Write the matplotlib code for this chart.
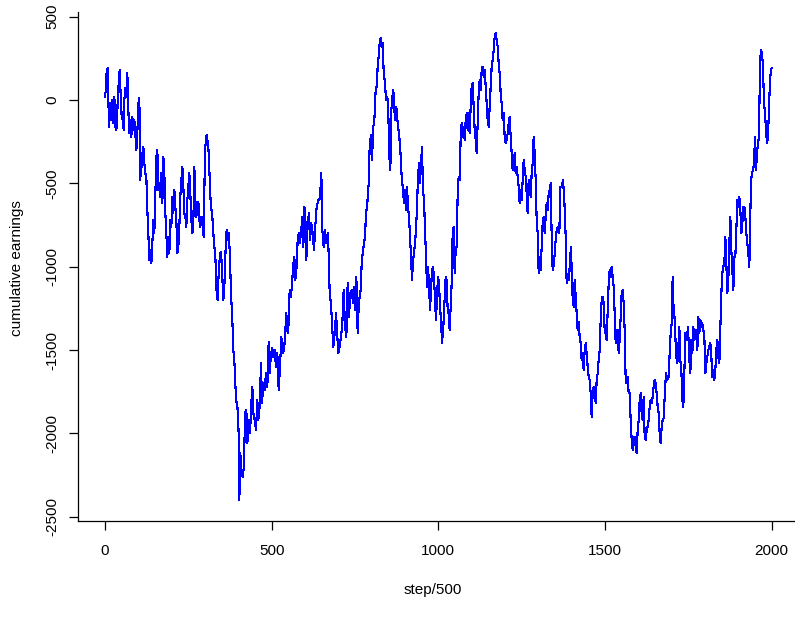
import matplotlib
matplotlib.use("Agg")
import matplotlib.pyplot as plt

steps = [0, 3, 5, 8, 10, 12, 15, 18, 22, 25, 28, 32, 36, 38, 42, 44, 47, 50, 53, 56,
         58, 61, 64, 67, 70, 73, 76, 79, 82, 85, 88, 91, 94, 97, 100, 103, 106, 109, 112, 115,
         118, 121, 124, 127, 130, 133, 136, 139, 142, 145, 148, 151, 154, 157, 160, 163, 166, 169, 172, 175,
         178, 181, 184, 187, 190, 193, 196, 199, 202, 205, 208, 211, 214, 217, 220, 223, 226, 229, 232, 235,
         238, 241, 244, 247, 250, 253, 256, 259, 262, 265, 268, 271, 274, 277, 280, 283, 286, 289, 292, 296,
         300, 305, 310, 313, 315, 318, 322, 325, 328, 331, 335, 338, 340, 345, 348, 351, 355, 358, 362, 365,
         368, 371, 375, 378, 381, 385, 389, 393, 397, 401, 403, 406, 409, 413, 417, 420, 424, 427, 431, 435,
         439, 442, 445, 449, 453, 457, 460, 464, 468, 471, 475, 479, 483, 487, 491, 494, 498, 502, 505, 509,
         513, 517, 521, 525, 529, 533, 537, 540, 544, 548, 551, 554, 557, 561, 564, 568, 571, 575, 578, 581,
         584, 588, 592, 595, 598, 601, 604, 608, 612, 615, 619, 623, 627, 630,
         635, 640, 645, 649, 652, 656, 660, 664, 668, 671, 674, 678, 682, 685, 690, 693, 697, 700, 704, 708,
         712, 716, 720, 724, 728, 732, 736, 740, 744, 748, 751, 754, 758, 761, 764, 767, 770, 773, 777, 780,
         783, 787, 791, 794, 798, 801, 805, 808, 812, 815, 818, 821, 824, 827, 830, 833, 836, 840, 843, 847,
         850, 853, 856, 859, 862, 865, 868, 871, 874, 878, 882, 886, 890, 894, 897, 900, 903, 906, 909, 912,
         915, 918, 921, 924, 927, 930, 933, 936, 939, 942, 945, 948, 951, 954, 957, 960, 963, 966, 969, 972,
         975, 978, 981, 984, 987,
         990, 993, 996, 999, 1002, 1005, 1008, 1011, 1015, 1019, 1022, 1025, 1028, 1031, 1034, 1037, 1040, 1043, 1046, 1049,
         1052, 1055, 1058, 1061, 1064, 1067, 1070, 1073, 1076, 1079, 1082, 1085, 1088, 1091, 1094, 1097, 1100, 1103, 1106, 1109,
         1112, 1115, 1118, 1121, 1124, 1127, 1130, 1133, 1136, 1139, 1142, 1145, 1148, 1151, 1154, 1157, 1160, 1163, 1166, 1169,
         1172, 1175, 1178, 1181, 1184, 1187, 1190, 1193, 1196, 1199, 1202, 1205, 1208, 1211, 1214, 1217, 1220, 1223, 1226, 1229,
         1232, 1235, 1238, 1241, 1244, 1247, 1250, 1253, 1256, 1259, 1262, 1265, 1268, 1271, 1274, 1277, 1280, 1283, 1286, 1289,
         1292, 1295, 1298, 1301, 1304, 1307, 1310, 1313, 1316, 1319, 1322, 1325, 1328, 1331,
         1334, 1337, 1340, 1343, 1347, 1351, 1355, 1359, 1363, 1366, 1370, 1374, 1378, 1382, 1385, 1388, 1392, 1395, 1398, 1402,
         1406, 1409, 1412, 1415, 1418, 1421, 1424, 1427, 1430, 1433, 1436, 1439, 1442, 1445, 1448, 1451, 1454, 1457, 1460, 1463,
         1466, 1469, 1472, 1475, 1478, 1481, 1484, 1487, 1490, 1493, 1496, 1499, 1502, 1505, 1508, 1511, 1514, 1517, 1520, 1523,
         1526, 1529, 1532, 1535, 1538, 1541, 1544, 1547, 1550, 1553, 1556, 1559, 1562, 1565, 1568, 1571, 1574, 1577, 1580, 1583,
         1586, 1589, 1592, 1595, 1598, 1601, 1604, 1607, 1610, 1613, 1616, 1619, 1622, 1625, 1628, 1631, 1634, 1637, 1640, 1643,
         1646, 1649, 1652, 1655, 1658, 1661, 1664, 1667, 1670, 1673, 1676,
         1680, 1683, 1687, 1691, 1694, 1697, 1700, 1703, 1705, 1708, 1711, 1714, 1717, 1720, 1723, 1726, 1729, 1732, 1735, 1738,
         1741, 1745, 1749, 1753, 1756, 1759, 1762, 1765, 1768, 1771, 1774, 1777, 1780, 1783, 1786, 1789, 1792, 1795, 1798, 1801,
         1804, 1807, 1810, 1813, 1816, 1819, 1822, 1825, 1828, 1831, 1834, 1837, 1840, 1843, 1846, 1849, 1852, 1855, 1858, 1861,
         1864, 1867, 1870, 1873, 1876, 1879, 1882, 1885, 1888, 1891, 1894, 1897, 1900, 1903, 1906, 1909, 1912, 1915, 1918, 1921,
         1924, 1927, 1930, 1933, 1935, 1938, 1941, 1944, 1947, 1950, 1953, 1956, 1959, 1962, 1965, 1968, 1971, 1974, 1977, 1980,
         1983, 1986, 1989, 1992, 1995, 1998, 2000]

earnings = [20, 70, 180, 190, 0, -160, -20, -120, 0, -140, 20, -180, -160, 0, 130, 180, 30, -100, -120, -180,
            0, 70, 20, 160, -60, -200, -120, -220, -100, -180, -120, -200, -300, -200, -20, 10, -480, -320, -400, -280,
            -380, -440, -460, -660, -800, -960, -900, -980, -860, -720, -800, -560, -340, -300, -540, -500, -580, -440, -620, -340,
            -440, -680, -800, -940, -820, -920, -720, -760, -580, -680, -540, -640, -720, -920, -880, -760, -580, -480, -400, -520,
            -680, -700, -760, -600, -520, -440, -560, -720, -800, -740, -400, -600, -700, -640, -610, -720, -760, -700, -720, -820,
            -300, -210, -280, -410, -540, -640, -700, -800, -880, -940, -1160, -1200, -1080, -920, -910, -1020, -1200, -1120, -880, -780,
            -840, -800, -940, -1180, -1260, -1500, -1600, -1800, -1830, -2000, -2400, -2120, -2240, -2260, -2200, -1880, -1860, -2060, -1920, -2000,
            -1820, -1720, -1880, -1920, -1980, -1800, -1920, -1840, -1580, -1820, -1700, -1740, -1640, -1720, -1450, -1640, -1520, -1490, -1540, -1500,
            -1600, -1520, -1740, -1600, -1420, -1520, -1500, -1420, -1280, -1400, -1340, -1140, -1180, -1120, -1000, -940, -1080, -1000, -840, -800,
            -860, -800, -700, -880, -640, -700, -960, -740, -680, -840, -740, -800, -900, -780,
            -640, -600, -590, -440, -780, -880, -780, -860, -800, -920, -1160, -1220, -1380, -1480, -1380, -1280, -1420, -1520, -1480, -1420,
            -1340, -1140, -1360, -1420, -1100, -1300, -1160, -1140, -1220, -1120, -1260, -1060, -1400, -1240, -1180, -1140, -980, -920, -860, -820,
            -680, -620, -500, -280, -210, -360, -160, -120, 60, 80, 200, 260, 340, 370, 320, 340, 170, 100, 0, 20,
            -80, -340, -420, -60, 20, 60, -60, -120, -40, -140, -200, -300, -460, -540, -620, -540, -660, -520, -640, -700,
            -820, -940, -1080, -960, -920, -860, -780, -640, -460, -380, -500, -380, -280, -540, -600, -780, -940, -1120, -1000, -1100,
            -1260, -1140, -1020, -1000, -1060,
            -1200, -1320, -1180, -1060, -1100, -1240, -1320, -1460, -1360, -1180, -1060, -1080, -1260, -1280, -1380, -1240, -1100, -800, -760, -1040,
            -900, -880, -560, -460, -480, -220, -140, -220, -160, -240, -120, -80, -180, -80, -200, -40, 80, 100, -40, -180,
            -240, -320, -140, 40, 120, 60, 180, 200, 140, 180, 80, -20, -120, -160, -40, 80, 200, 240, 300, 380,
            400, 360, 320, 220, 160, 40, -20, -120, -80, -220, -260, -240, -200, -140, -100, -220, -320, -420, -360, -320,
            -440, -400, -460, -520, -620, -540, -600, -480, -360, -420, -460, -560, -680, -480, -520, -580, -440, -380, -220, -320,
            -480, -720, -800, -1040, -940, -1020, -880, -740, -700, -800, -700, -620, -660, -560,
            -540, -500, -820, -1020, -980, -860, -780, -760, -800, -520, -520, -480, -600, -820, -1100, -1060, -1080, -960, -880, -1160,
            -1240, -1080, -1180, -1280, -1380, -1330, -1420, -1460, -1560, -1520, -1620, -1500, -1460, -1520, -1600, -1660, -1680, -1760, -1900, -1760,
            -1720, -1720, -1820, -1680, -1640, -1560, -1500, -1320, -1200, -1180, -1220, -1380, -1400, -1440, -1260, -1100, -1020, -1060, -1000, -1060,
            -1120, -1280, -1460, -1380, -1380, -1520, -1440, -1300, -1160, -1140, -1220, -1380, -1680, -1700, -1660, -1760, -1760, -1920, -2040, -2100,
            -2040, -2020, -2080, -2120, -1980, -1920, -1800, -1760, -1880, -1920, -1780, -2020, -2040, -1980, -1960, -1920, -1840, -1800, -1820, -1780,
            -1720, -1680, -1700, -1760, -1840, -1880, -2000, -2060, -1960, -1920, -1910,
            -1740, -1640, -1680, -1660, -1520, -1400, -1340, -1060, -1220, -1280, -1420, -1540, -1580, -1480, -1360, -1560, -1620, -1800, -1840, -1640,
            -1400, -1440, -1360, -1560, -1640, -1440, -1520, -1360, -1440, -1400, -1380, -1500, -1300, -1400, -1320, -1360, -1340, -1380, -1420, -1640,
            -1580, -1540, -1500, -1480, -1460, -1540, -1660, -1620, -1680, -1620, -1500, -1440, -1540, -1580, -1360, -1160, -1040, -1000, -980, -820,
            -980, -1160, -1080, -860, -700, -900, -1020, -1140, -940, -940, -780, -600, -640, -580, -660, -800, -740, -640, -640, -700,
            -800, -860, -920, -1000, -780, -480, -440, -420, -380, -220, -420, -320, -260, -220, 220, 300, 280, 200, -20, -80,
            -180, -260, -220, -40, 120, 180, 190]

x_ticks = [0, 500, 1000, 1500, 2000]
y_ticks = [-2500, -2000, -1500, -1000, -500, 0, 500]
x_label = "step/500"
y_label = "cumulative earnings"

plt.rcParams['font.family'] = ['Liberation Sans', 'DejaVu Sans']
W, H = 795, 619
fig = plt.figure(figsize=(W / 100, H / 100), dpi=100)
left_px, right_px, top_px, bottom_px = 78, 799, 12, 521
ax = fig.add_axes([left_px / W, (H - bottom_px) / H, (right_px - left_px) / W, (bottom_px - top_px) / H])

ax.plot(steps, earnings, color='#0000ff', linewidth=0.8, antialiased=False)

x0 = (left_px - 105) * 3.0
x1 = (right_px - 105) * 3.0
ax.set_xlim(x0, x1)
ax.set_ylim((100 - bottom_px) * 6.0, (100 - top_px) * 6.0)

for s in ['top', 'right']:
    ax.spines[s].set_visible(False)
for s in ['left', 'bottom']:
    ax.spines[s].set_linewidth(0.9)
    ax.spines[s].set_color('black')

ax.set_xticks(x_ticks)
ax.set_yticks(y_ticks)
ax.set_xticklabels([str(v) for v in x_ticks])
ax.set_yticklabels([str(v) for v in y_ticks], rotation=90, va='center')
ax.tick_params(axis='both', direction='out', length=6.5, width=0.9, labelsize=11, colors='black')
ax.tick_params(axis='x', pad=10)
ax.tick_params(axis='y', pad=7)

fig.text(433 / W, 1 - 590 / H, x_label, ha='center', va='center', fontsize=11)
fig.text(17 / W, 1 - 268 / H, y_label, ha='center', va='center', rotation=90, fontsize=11)

fig.savefig("out.png", dpi=100)
